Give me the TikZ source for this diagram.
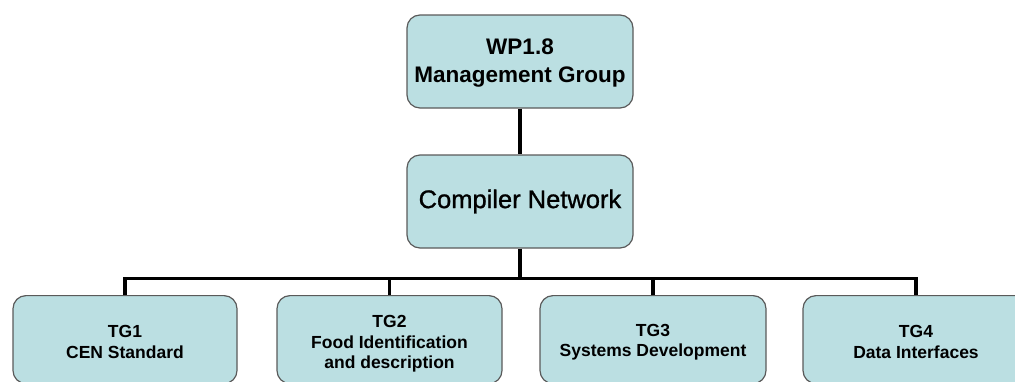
\documentclass[tikz,border=0pt]{standalone}
\usepackage{fontspec}
\setmainfont{Liberation Sans}
% slightly heavier regular face for the central box
\newfontfamily\medsans[FakeBold=1]{Liberation Sans}
\definecolor{boxfill}{HTML}{BBDFE2}
\definecolor{boxline}{HTML}{5A5A5A}
\begin{document}
\begin{tikzpicture}[x=1pt,y=-1pt,
  box/.style={draw=boxline,line width=1.2pt,fill=boxfill,rounded corners=13pt,inner sep=0pt},
  tgtext/.style={align=center,font=\fontsize{17.5}{20.5}\selectfont\bfseries,inner sep=0pt},
  link/.style={line width=3.2pt,black}]
\useasboundingbox (0,0) rectangle (1015,381);
\clip (0,0) rectangle (1015,381);

% management and compiler boxes
\node[box,minimum width=226pt,minimum height=93pt] (wp) at (520,61.5) {};
\node[align=center,inner sep=0pt,font=\fontsize{22.5}{28}\selectfont\bfseries]
      (wpt) at (520,63) {WP1.8\\Management Group};
\node[box,minimum width=226pt,minimum height=93pt,
      font=\medsans\fontsize{25.5}{28}\selectfont] (cn) at (520,201.5) {Compiler Network};

% task group boxes (running past the lower edge)
\node[box,anchor=north,minimum width=224pt,minimum height=88pt] (tg1) at (125,295) {};
\node[box,anchor=north,minimum width=225pt,minimum height=88pt] (tg2) at (389.5,295) {};
\node[box,anchor=north,minimum width=226pt,minimum height=88pt] (tg3) at (653,295) {};
\node[box,anchor=north,minimum width=226pt,minimum height=88pt] (tg4) at (916,295) {};

\node[tgtext] (t1) at (125,342) {TG1\\CEN Standard};
\node[tgtext] (t2) at (389.5,344) {TG2\\Food Identification\\and description};
\node[tgtext] (t3) at (653,342) {TG3\\Systems Development};
\node[tgtext] (t4) at (916,342) {TG4\\Data Interfaces};

% connectors
\coordinate (bus) at (520,278.5);
\draw[link] (wp.south) -- (cn.north);
\draw[link] (cn.south) -- (bus);
\draw[link] (tg1.north) |- (bus);
\draw[link] (tg2.north) |- (bus);
\draw[link] (tg3.north) |- (bus);
\draw[link] (tg4.north) |- (bus);
\end{tikzpicture}
\end{document}
